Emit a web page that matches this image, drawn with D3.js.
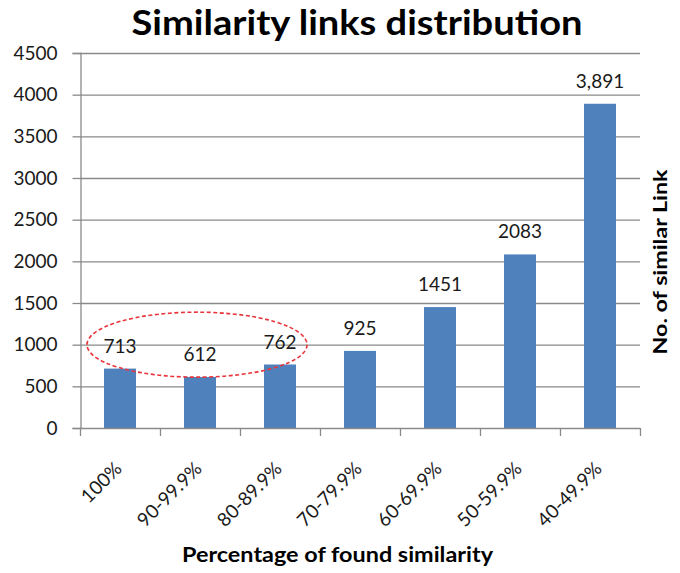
<!DOCTYPE html>
<html>
<head>
<meta charset="utf-8">
<script src="https://cdn.jsdelivr.net/npm/d3@7"></script>
<style>
  html, body { margin: 0; padding: 0; background: #ffffff; }
  svg { display: block; }
</style>
</head>
<body>
<svg id="chart" width="680" height="573"></svg>
<script>
const categories = ["100%", "90-99.9%", "80-89.9%", "70-79.9%", "60-69.9%", "50-59.9%", "40-49.9%"];
const values = [713, 612, 762, 925, 1451, 2083, 3891];
const valueLabels = ["713", "612", "762", "925", "1451", "2083", "3,891"];
const yTicks = [0, 500, 1000, 1500, 2000, 2500, 3000, 3500, 4000, 4500];
const highlighted = ["100%", "90-99.9%", "80-89.9%"];

const svg = d3.select("#chart");
const margin = { left: 80, top: 53 };
const plotW = 640 - margin.left;   // right edge at 640
const plotH = 428 - margin.top;    // baseline at 428

const NUM_FONT = "Lato, 'Open Sans', sans-serif";
const gridColor = "#8a8a8a";

const x = d3.scaleBand().domain(categories).range([0, plotW]).paddingInner(0.6).paddingOuter(0.3);
const y = d3.scaleLinear().domain([0, 4500]).range([plotH, 0]);

const g = svg.append("g").attr("transform", `translate(${margin.left},${margin.top})`);

// gridlines
g.append("g").selectAll("line").data(yTicks.filter(d => d > 0)).join("line")
  .attr("x1", 0).attr("x2", plotW)
  .attr("y1", d => y(d) + 0.5).attr("y2", d => y(d) + 0.5)
  .attr("stroke", gridColor).attr("stroke-width", 1.3);

// y axis
const yAxis = d3.axisLeft(y).tickValues(yTicks).tickSize(8).tickPadding(15).tickFormat(d3.format("d"));
const ya = g.append("g").attr("transform", "translate(0.5,0)").call(yAxis);
ya.select(".domain").attr("stroke", gridColor).attr("stroke-width", 1.3);
ya.selectAll(".tick line").attr("stroke", gridColor).attr("stroke-width", 1.3);
ya.selectAll(".tick text").attr("font-family", NUM_FONT).attr("font-size", 19).attr("fill", "#1a1a1a");
ya.selectAll(".tick").attr("transform", d => `translate(0,${y(d) + 0.5})`);

// bars
g.append("g").selectAll("rect").data(values).join("rect")
  .attr("x", (d, i) => x(categories[i]))
  .attr("width", x.bandwidth())
  .attr("y", d => y(d))
  .attr("height", d => plotH - y(d))
  .attr("fill", "#4f81bd");

// x axis baseline + ticks at band boundaries
g.append("line").attr("x1", 0).attr("x2", plotW).attr("y1", plotH + 0.5).attr("y2", plotH + 0.5)
  .attr("stroke", gridColor).attr("stroke-width", 1.3);
const step = x.step();
g.append("g").selectAll("line").data(d3.range(categories.length + 1)).join("line")
  .attr("x1", i => i * step + 0.5)
  .attr("x2", i => i * step + 0.5)
  .attr("y1", plotH).attr("y2", plotH + 8)
  .attr("stroke", gridColor).attr("stroke-width", 1.3);

// x labels rotated
g.append("g").selectAll("text").data(categories).join("text")
  .attr("transform", d => `translate(${x(d) + x.bandwidth() / 2 + 3},${plotH + 42}) rotate(-45)`)
  .attr("text-anchor", "end")
  .attr("font-family", NUM_FONT).attr("font-size", 19).attr("fill", "#1a1a1a")
  .text(d => d);

// value labels
g.append("g").selectAll("text").data(values).join("text")
  .attr("x", (d, i) => x(categories[i]) + x.bandwidth() / 2)
  .attr("y", d => y(d) - 16)
  .attr("text-anchor", "middle")
  .attr("font-family", NUM_FONT).attr("font-size", 19).attr("fill", "#1a1a1a")
  .text((d, i) => valueLabels[i]);

// highlight ellipse around first three categories
const h0 = x(highlighted[0]), h2 = x(highlighted[highlighted.length - 1]) + x.bandwidth();
g.append("ellipse")
  .attr("cx", (h0 + h2) / 2 - 3)
  .attr("cy", y(1000))
  .attr("rx", (h2 - h0) / 2 + 14)
  .attr("ry", y(0) - y(390))
  .attr("fill", "none")
  .attr("stroke", "#e8353c")
  .attr("stroke-width", 1.6)
  .attr("stroke-dasharray", "4,2.5");

// title
svg.append("text")
  .attr("x", 357).attr("y", 35)
  .attr("text-anchor", "middle")
  .attr("font-family", "Lato, sans-serif").attr("font-weight", "bold").attr("font-size", 34)
  .attr("textLength", 451).attr("lengthAdjust", "spacingAndGlyphs")
  .attr("fill", "#000")
  .text("Similarity links distribution");

// x axis title
svg.append("text")
  .attr("x", 337.5).attr("y", 562)
  .attr("text-anchor", "middle")
  .attr("font-family", "Lato, sans-serif").attr("font-weight", "bold").attr("font-size", 20)
  .attr("textLength", 311).attr("lengthAdjust", "spacingAndGlyphs")
  .attr("fill", "#000")
  .text("Percentage of found similarity");

// y axis title (right side)
svg.append("text")
  .attr("transform", "translate(667,262) rotate(-90)")
  .attr("text-anchor", "middle")
  .attr("font-family", "Lato, sans-serif").attr("font-weight", "bold").attr("font-size", 19)
  .attr("textLength", 185).attr("lengthAdjust", "spacingAndGlyphs")
  .attr("fill", "#000")
  .text("No. of similar Link");
</script>
</body>
</html>
